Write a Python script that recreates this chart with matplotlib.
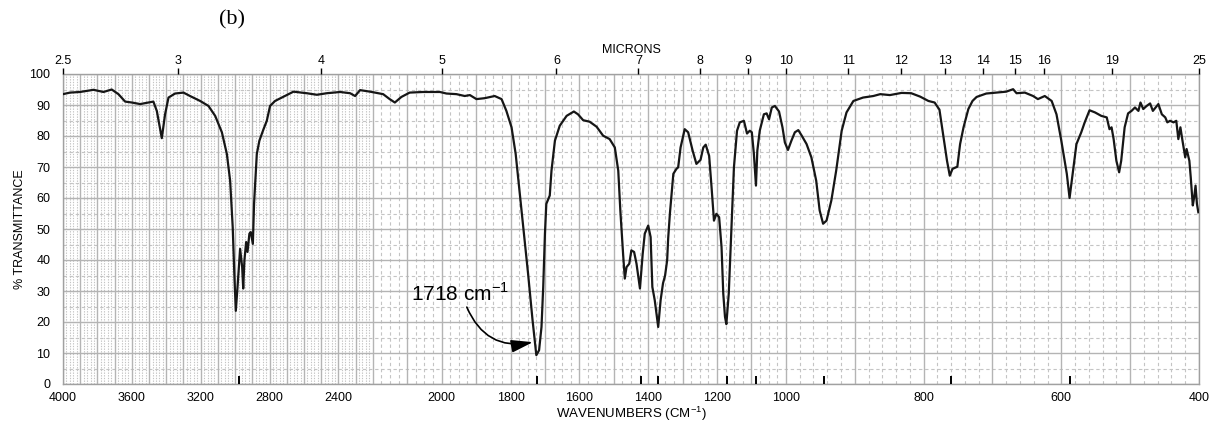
import numpy as np
import matplotlib
matplotlib.use("Agg")
import matplotlib.pyplot as plt

plt.rcParams['font.family'] = ['Liberation Sans', 'DejaVu Sans']
plt.rcParams['mathtext.fontset'] = 'custom'
plt.rcParams['mathtext.rm'] = 'Liberation Sans'

# ---------------- data ----------------
wavenumber = [
    4000, 3959, 3901, 3823, 3765, 3717, 3678, 3639, 3600, 3552, 3504, 3475, 3455, 3426, 3407,
    3387, 3349, 3300, 3262, 3203, 3155, 3116, 3077, 3048, 3029, 3014, 3004, 2996, 2986, 2971,
    2959, 2953, 2946, 2936, 2928, 2917, 2909, 2897, 2890, 2874, 2859, 2835, 2816, 2797, 2768,
    2729, 2661, 2584, 2525, 2467, 2390, 2332, 2303, 2274, 2216,
    2170, 2151, 2136, 2117, 2093, 2054, 2005, 1986, 1957, 1933, 1918, 1899, 1875, 1846, 1826,
    1812, 1797, 1785, 1775, 1763, 1749, 1736, 1725, 1717, 1710, 1705, 1700, 1696, 1686, 1681,
    1671, 1657, 1637, 1616, 1604, 1589, 1570, 1550, 1531, 1512, 1497, 1487, 1481, 1473, 1468,
    1463, 1455, 1449, 1441, 1434, 1424, 1416, 1410, 1400, 1393, 1388, 1381, 1371, 1364, 1357,
    1351, 1345, 1342, 1337, 1327, 1318, 1313, 1306, 1294, 1284, 1271, 1260, 1248, 1240, 1233,
    1223, 1216, 1209, 1202, 1194, 1187, 1182, 1177, 1173, 1166, 1158, 1151, 1142, 1134, 1122,
    1113, 1105, 1099, 1093, 1087, 1083, 1076, 1064, 1056, 1049, 1041, 1032, 1020, 1010, 1003,
    997, 992, 987, 982, 977, 970, 963, 956, 951, 946, 941, 934, 927, 919, 912,
    902, 888, 873, 863, 849, 832, 818, 805, 793, 784, 777, 771, 766, 762, 758,
    751, 747, 742, 735, 729, 723, 709, 694, 680, 670, 665, 653, 641, 634, 624,
    614, 607, 600, 592, 588, 583, 578, 571, 566, 559, 551, 542, 534, 530, 527,
    524, 520, 516, 513, 508, 503, 498, 493, 488, 485, 481, 476, 471, 467, 459,
    454, 449, 446, 442, 437, 433, 430, 427, 424, 420, 418, 414, 412, 409, 407,
    405, 403, 401,
]
transmittance = [
    93.5, 94.0, 94.2, 94.9, 94.2, 95.0, 93.5, 91.1, 90.8, 90.3, 90.8, 91.1, 88.1, 79.3, 87.0,
    92.4, 93.7, 94.0, 92.9, 91.3, 89.7, 86.5, 81.2, 74.2, 65.6, 50.6, 34.5, 23.6, 31.3, 43.6,
    37.7, 30.8, 39.9, 45.8, 42.6, 48.5, 49.0, 45.2, 58.1, 74.2, 78.5, 82.2, 84.9, 89.7, 91.3,
    92.4, 94.3, 93.8, 93.3, 93.8, 94.2, 93.8, 92.9, 94.8, 94.3,
    93.5, 91.9, 90.8, 92.6, 94.0, 94.2, 94.2, 93.7, 93.5, 92.9, 93.2, 91.9, 92.2, 92.9, 91.9,
    88.1, 82.8, 74.2, 63.5, 50.6, 35.6, 20.6, 9.3, 10.9, 18.4, 31.3, 48.5, 58.1, 60.8, 68.8,
    78.5, 83.3, 86.5, 87.9, 87.0, 85.1, 84.6, 83.0, 80.1, 79.0, 76.3, 68.8, 56.0, 42.0, 34.0,
    37.7, 38.8, 43.1, 42.6, 38.8, 30.8, 42.0, 48.5, 51.1, 47.4, 31.3, 27.0, 18.4, 27.0, 32.5,
    35.0, 39.9, 47.0, 55.0, 67.8, 69.4, 69.9, 76.3, 82.2, 81.2, 75.3, 71.0, 72.3, 76.3, 77.2,
    73.6, 63.5, 52.7, 54.9, 53.8, 44.2, 29.2, 21.7, 19.3, 29.2, 50.6, 69.9, 81.7, 84.4, 84.9,
    80.8, 81.7, 81.2, 74.2, 64.0, 75.3, 81.7, 87.0, 87.3, 85.4, 89.2, 89.7, 87.9, 82.8, 77.9,
    75.5, 78.5, 81.2, 81.9, 80.1, 77.4, 73.1, 65.6, 56.0, 51.7, 52.7, 59.2, 68.8, 81.7, 87.6,
    91.3, 92.4, 92.9, 93.5, 93.2, 93.9, 93.8, 92.7, 91.3, 90.8, 88.5, 79.5, 72.0, 67.2, 69.4,
    70.1, 77.4, 82.8, 88.7, 91.3, 92.6, 93.7, 94.0, 94.3, 95.1, 93.8, 94.0, 92.9, 91.9, 92.9,
    91.3, 87.0, 78.5, 67.8, 60.0, 68.8, 77.4, 81.2, 84.4, 88.3, 87.6, 86.5, 86.0, 82.2, 82.8,
    79.0, 72.0, 68.3, 72.0, 82.8, 87.3, 88.1, 89.2, 88.1, 90.8, 88.7, 89.7, 90.5, 88.1, 90.3,
    87.0, 86.0, 84.4, 84.9, 84.4, 84.9, 79.0, 82.8, 78.5, 73.1, 75.8, 72.0, 66.7, 57.6, 60.3,
    64.0, 58.1, 55.4,
]

wavenumber_ticks = [4000, 3600, 3200, 2800, 2400, 2000, 1800, 1600, 1400, 1200, 1000, 800, 600, 400]
micron_ticks = [2.5, 3, 4, 5, 6, 7, 8, 9, 10, 11, 12, 13, 14, 15, 16, 19, 25]
transmittance_ticks = [0, 10, 20, 30, 40, 50, 60, 70, 80, 90, 100]
peak_marks = [2977, 1724, 1421, 1372, 1172, 1087, 945, 760, 587]
annot_label = "1718 cm$^{\\mathregular{-1}}$"
annot_text_pos = (1947, 29.3)
annot_arrow_start = (1927, 24.8)
annot_arrow_end = (1735, 13.5)


# -------- piecewise chart-paper scale (breaks at 2200 and 1000 cm-1) --------
def fwd(w):
    w = np.asarray(w, dtype=float)
    return np.where(w <= 1000, 4.0 * (w - 400),
                    np.where(w <= 2200, 2400 + 2.0 * (w - 1000), 4800 + (w - 2200)))


def inv(p):
    p = np.asarray(p, dtype=float)
    return np.where(p <= 2400, 400 + p / 4.0,
                    np.where(p <= 4800, 1000 + (p - 2400) / 2.0, 2200 + (p - 4800)))


W, H = 1210, 424
fig = plt.figure(figsize=(W / 100, H / 100), dpi=100)
L, R, T, B = 63, 1199, 74, 384
ax = fig.add_axes([L / W, 1 - B / H, (R - L) / W, (B - T) / H])
ax.set_xscale('function', functions=(fwd, inv))
ax.set_xlim(4000, 400)
ax.set_ylim(0, 100)

# ---------------- grid ----------------
major_c = '#b4b4b4'
minor_c = '#c4c4c4'
maj_v = np.concatenate([np.arange(2200, 4001, 100), np.arange(1000, 2200, 100), np.arange(400, 1000, 100)])
min_left = [v for v in np.arange(2200, 4000, 20) if v % 100 != 0]
min_mid = [v for v in np.arange(1000, 2200, 25) if v % 100 != 0]
min_right = [v for v in np.arange(400, 1000, 20) if v % 100 != 0]
ax.vlines(min_left, 0, 100, colors=minor_c, lw=0.8, linestyles=(0, (1.2, 1.2)), zorder=1)
ax.vlines(min_mid + min_right, 0, 100, colors=minor_c, lw=0.8, linestyles=(0, (3, 2.5)), zorder=1)
ax.hlines(np.arange(5, 100, 10), 4000, 400, colors=minor_c, lw=0.8, linestyles=(0, (3, 2.5)), zorder=1)
ax.vlines(maj_v, 0, 100, colors=major_c, lw=1.0, zorder=1.1)
ax.hlines(np.arange(0, 101, 10), 4000, 400, colors=major_c, lw=1.0, zorder=1.1)

# ---------------- spectrum ----------------
ax.plot(wavenumber, transmittance, color='#161616', lw=1.6, zorder=3)

# peak markers at the bottom
ax.vlines(peak_marks, 0, 2.6, colors='black', lw=1.4, zorder=4)

# annotation
ax.text(annot_text_pos[0], annot_text_pos[1], annot_label, fontsize=15,
        ha='center', va='center', zorder=5)
ax.annotate('', xy=annot_arrow_end, xytext=annot_arrow_start,
            arrowprops=dict(arrowstyle='-|>,head_length=1.1,head_width=0.32',
                            connectionstyle='arc3,rad=0.4', color='black', lw=1.2,
                            shrinkA=0, shrinkB=0, mutation_scale=12),
            zorder=5)

# ---------------- axes styling ----------------
for s in ax.spines.values():
    s.set_color('#a0a0a0')
    s.set_linewidth(1.0)

ax.set_xticks(wavenumber_ticks)
ax.set_xticklabels([str(v) for v in wavenumber_ticks])
ax.xaxis.set_minor_locator(matplotlib.ticker.NullLocator())
ax.set_yticks(transmittance_ticks)
ax.set_yticklabels([str(v) for v in transmittance_ticks])
ax.tick_params(axis='x', length=0, labelsize=9, pad=6)
ax.tick_params(axis='y', length=0, labelsize=9, pad=9)

ax.set_xlabel('WAVENUMBERS (CM$^{\\mathregular{-1}}$)', fontsize=9.5)
ax.xaxis.set_label_coords(0.5, (B - 414) / (B - T), transform=ax.transAxes)
ax.xaxis.label.set_va('center')
ax.set_ylabel('% TRANSMITTANCE', fontsize=9)
ax.yaxis.set_label_coords((20 - L) / (R - L), 0.5, transform=ax.transAxes)
ax.yaxis.label.set_va('center')

# top micron axis
ax2 = ax.twiny()
ax2.set_xscale('function', functions=(fwd, inv))
ax2.set_xlim(4000, 400)
ax2.set_xticks([1e4 / m for m in micron_ticks])
ax2.set_xticklabels([('%g' % m) for m in micron_ticks])
ax2.xaxis.set_minor_locator(matplotlib.ticker.NullLocator())
ax2.tick_params(axis='x', direction='out', length=4, width=1.0, color='black',
                labelsize=9, pad=1)
for s in ax2.spines.values():
    s.set_visible(False)
ax2.set_xlabel('MICRONS', fontsize=9)
ax2.xaxis.set_label_coords(0.5, 1 + (T - 50) / (B - T), transform=ax2.transAxes)
ax2.xaxis.label.set_va('center')

fig.text(232 / W, 1 - 20 / H, '(b)', family=['Liberation Serif', 'DejaVu Serif'],
         fontsize=16, ha='center', va='center')

fig.savefig('out.png', dpi=100)
